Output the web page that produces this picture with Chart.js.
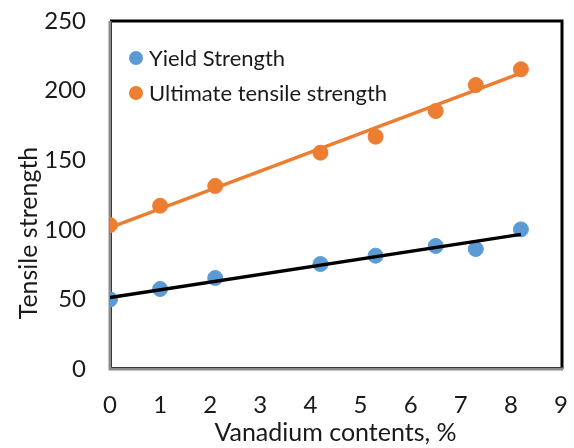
<!DOCTYPE html>
<html>
<head>
<meta charset="utf-8">
<script src="https://cdn.jsdelivr.net/npm/chart.js@4"></script>
<style>
html,body{margin:0;padding:0;background:#fff;}
#wrap{width:574px;height:448px;position:relative;}
</style>
</head>
<body>
<div id="wrap"><canvas id="c" width="574" height="448"></canvas></div>
<script>
// Data
const vanadium = [0, 1, 2.1, 4.2, 5.3, 6.5, 7.3, 8.2];
const yieldStrength = [50, 57.5, 65.4, 75.4, 81.4, 88.4, 86.2, 100.3];
const ultimateStrength = [103.4, 117.3, 131.5, 155.4, 166.9, 185.3, 204, 215.3];
const yieldTrendX = [0, 8.2];
const yieldTrendY = [51.3, 96.7];
const utsTrendX = [0, 8.2];
const utsTrendY = [101.5, 212.5];
const seriesNames = ["Yield Strength", "Ultimate tensile strength"];
const xTicks = [0,1,2,3,4,5,6,7,8,9];
const yTicks = [0,50,100,150,200,250];
const xTitle = "Vanadium contents, %";
const yTitle = "Tensile strength";

const BLUE = '#5b9bd5', ORANGE = '#ed7d31';
const FONT = 'Lato, "Open Sans", sans-serif';

const pts = (xs, ys) => xs.map((x,i)=>({x:x, y:ys[i]}));

const framePlugin = {
  id:'frame',
  beforeDatasetsDraw(chart){
    const {ctx, chartArea:a} = chart;
    ctx.save();
    ctx.strokeStyle = '#000'; ctx.lineWidth = 3;
    ctx.beginPath();
    ctx.moveTo(a.left, a.top); ctx.lineTo(a.right+1, a.top); ctx.lineTo(a.right+1, a.bottom);
    ctx.stroke();
    ctx.strokeStyle = '#8c8c8c'; ctx.lineWidth = 3;
    ctx.beginPath();
    ctx.moveTo(a.left, a.top); ctx.lineTo(a.left, a.bottom); ctx.lineTo(a.right+2, a.bottom);
    ctx.stroke();
    ctx.strokeStyle = '#3a3a3a'; ctx.lineWidth = 1;
    ctx.beginPath();
    ctx.moveTo(a.left+1.5, a.top); ctx.lineTo(a.left+1.5, a.bottom-1.5); ctx.lineTo(a.right+2, a.bottom-1.5);
    ctx.stroke();
    ctx.restore();
  }
};

const textPlugin = {
  id:'texts',
  afterDraw(chart){
    const {ctx, chartArea:a} = chart;
    const items = [[seriesNames[0], BLUE],[seriesNames[1], ORANGE]];
    ctx.save();
    ctx.font = '22px ' + FONT;
    ctx.textBaseline = 'middle';
    items.forEach((it,i)=>{
      const y = a.top + 37 + i*35;
      const x = a.left + 26;
      ctx.fillStyle = it[1];
      ctx.beginPath(); ctx.arc(x, y, 7, 0, Math.PI*2); ctx.fill();
      ctx.fillStyle = '#1a1a1a';
      ctx.fillText(it[0], x + 13, y + 1);
    });
    // y axis title
    ctx.translate(29, 233);
    ctx.rotate(-Math.PI/2);
    ctx.textAlign = 'center';
    ctx.font = '25px ' + FONT;
    ctx.fillStyle = '#1a1a1a';
    ctx.fillText(yTitle, 0, 0);
    ctx.restore();
  }
};

new Chart(document.getElementById('c'), {
  type:'scatter',
  data:{
    datasets:[
      {label:seriesNames[0]+' trend', data:pts(yieldTrendX,yieldTrendY), type:'line', borderColor:'#000', borderWidth:3.5, pointRadius:0, fill:false, order:0},
      {label:seriesNames[1]+' trend', data:pts(utsTrendX,utsTrendY), type:'line', borderColor:ORANGE, borderWidth:3.5, pointRadius:0, fill:false, order:0},
      {label:seriesNames[0], data:pts(vanadium,yieldStrength), backgroundColor:BLUE, borderColor:BLUE, pointRadius:7.5, pointHoverRadius:7.5, order:1},
      {label:seriesNames[1], data:pts(vanadium,ultimateStrength), backgroundColor:ORANGE, borderColor:ORANGE, pointRadius:7.5, pointHoverRadius:7.5, order:1}
    ]
  },
  options:{
    responsive:false, animation:false,
    layout:{padding:{top:21, right:13, left:0, bottom:0}},
    plugins:{legend:{display:false}, tooltip:{enabled:false}},
    scales:{
      x:{
        type:'linear', min:0, max:9,
        afterBuildTicks(s){ s.ticks = xTicks.map(v=>({value:v})); },
        grid:{display:false, drawTicks:false}, border:{display:false},
        ticks:{color:'#1a1a1a', font:{family:FONT, size:24}, padding:22, maxRotation:0},
        title:{display:true, text:xTitle, color:'#1a1a1a', font:{family:FONT, size:25}, padding:{top:0,bottom:0}},
        afterFit(s){ s.height = 79; s.paddingLeft = 0; s.paddingRight = 0; s.paddingTop = 0; s.paddingBottom = 0; }
      },
      y:{
        type:'linear', min:0, max:250,
        afterBuildTicks(s){ s.ticks = yTicks.map(v=>({value:v})); },
        grid:{display:false, drawTicks:false}, border:{display:false},
        ticks:{color:'#1a1a1a', font:{family:FONT, size:24}, padding:24},
        title:{display:false},
        afterFit(s){ s.width = 110; s.paddingLeft = 0; s.paddingRight = 0; s.paddingTop = 0; s.paddingBottom = 0; }
      }
    }
  },
  plugins:[framePlugin, textPlugin]
});
</script>
</body>
</html>
